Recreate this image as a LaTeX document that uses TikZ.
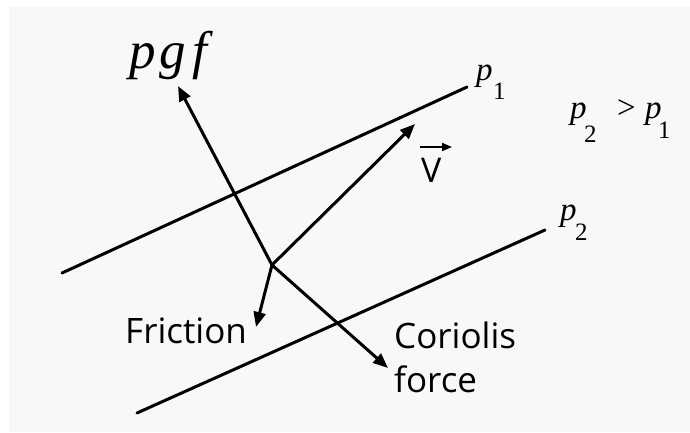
\documentclass[tikz,border=0pt]{standalone}
\usepackage{fontspec}
\setmainfont{Liberation Serif}
\newfontfamily\tnr{Liberation Serif}
\newfontfamily\osans{Open Sans}
\usetikzlibrary{arrows.meta}
\definecolor{bggray}{HTML}{F8F8F8}
\tikzset{
  isobar/.style={line width=3pt, line cap=round},
  force/.style={line width=3pt, -{Triangle[length=15pt,width=12pt]}},
  lab/.style={inner sep=0pt, anchor=base west},
  mathlab/.style={lab, font=\tnr\itshape\fontsize{33}{38}\selectfont},
  sublab/.style={lab, font=\tnr\upshape\fontsize{25}{30}\selectfont},
  sanslab/.style={lab, font=\osans\fontsize{35}{44}\selectfont},
}
\begin{document}
\begin{tikzpicture}[x=1pt,y=-1pt]
\useasboundingbox (0,0) rectangle (690,432);
\fill[white] (0,0) rectangle (690,432);
\fill[bggray] (9,7) rectangle (690,432);

% isobars
\coordinate (a1) at (62,273);
\coordinate (b1) at (467,87);
\coordinate (a2) at (137,413);
\coordinate (b2) at (545,230);
\draw[isobar] (a1) -- (b1);
\draw[isobar] (a2) -- (b2);

% forces
\coordinate (O) at (272,265);
\coordinate (tpgf) at (178,86);
\coordinate (tv) at (415,124);
\coordinate (tfr) at (256,327);
\coordinate (tco) at (388,368);
\draw[force] (O) -- (tpgf);
\draw[force] (O) -- (tv);
\draw[force] (O) -- (tfr);
\draw[force] (O) -- (tco);

% labels
\node[lab, font=\tnr\itshape\fontsize{53}{60}\selectfont] (pgf) at (129,68) {p\kern4pt g\kern6pt f};

\node[mathlab] (p1) at (476,80) {p};
\node[sublab] (p1s) at (493,99) {1};
\node[mathlab] (p2) at (560,220) {p};
\node[sublab] (p2s) at (575,240) {2};

\node[mathlab] (q2) at (570,118) {p};
\node[sublab] (q2s) at (584,142) {2};
\node[lab, font=\tnr\fontsize{33}{38}\selectfont] (gt) at (617,118) {>};
\node[mathlab] (q1) at (645,118) {p};
\node[sublab] (q1s) at (658,138) {1};

\node[lab, font=\osans\fontsize{34}{40}\selectfont] (V) at (421,182) {V};
\coordinate (va) at (420,147);
\coordinate (vb) at (452,147);
\draw[line width=1.8pt, -{Triangle[length=10pt,width=8pt]}] (va) -- (vb);

\node[sanslab] (fric) at (125,343) {Friction};
\node[sanslab] (cor1) at (394,348) {Coriolis};
\node[sanslab] (cor2) at (394,392) {force};
\end{tikzpicture}
\end{document}
